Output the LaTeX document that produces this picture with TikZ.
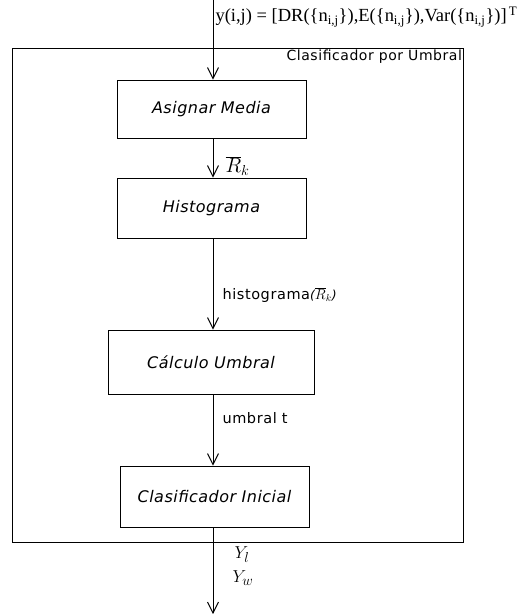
\documentclass[tikz,border=0pt]{standalone}
\usepackage{fontspec}
\setmainfont{Liberation Serif}
\newfontfamily\boxfont[LetterSpace=3]{DejaVu Sans}
\newfontfamily\labfont[LetterSpace=4]{DejaVu Sans}
\usetikzlibrary{arrows.meta}
\begin{document}
\begin{tikzpicture}[x=1pt,y=-1pt,
  line width=1pt,
  flow/.style={-{Straight Barb[length=11pt,width=11pt,line width=0.9pt]}},
  stage/.style={draw,rectangle,inner sep=0pt,font=\boxfont\itshape\fontsize{16}{18}\selectfont},
  lbl/.style={anchor=west,inner sep=0pt}]
  \useasboundingbox (0,0) rectangle (529,614);
  % outer frame of the threshold classifier
  \node[draw,rectangle,minimum width=451pt,minimum height=494pt,anchor=north west,inner sep=0pt]
    (frame) at (12,48) {};
  \node[anchor=north east,inner sep=1.5pt,font=\labfont\fontsize{14}{15}\selectfont]
    (ftitle) at (frame.north east) {Clasificador por Umbral};
  % processing stages
  \node[stage,minimum width=189pt,minimum height=58pt] (media) at (211.5,109) {Asignar Media};
  \node[stage,minimum width=189pt,minimum height=60pt] (hist)  at (211.5,208) {Histograma};
  \node[stage,minimum width=206pt,minimum height=64pt] (umbral) at (211,362) {Cálculo Umbral};
  \node[stage,minimum width=189pt,minimum height=61pt] (clasif) at (214.5,496.5) {Clasificador Inicial};
  % input and output ends
  \coordinate (in) at (213,0);
  \coordinate (out) at (213,614);
  \node[lbl,font=\fontsize{18.5}{20}\selectfont] (vec) at (215,17)
    {y(i,j) = [DR(\{n\textsubscript{i,j}\}),E(\{n\textsubscript{i,j}\}),Var(\{n\textsubscript{i,j}\})]\textsuperscript{\,T}};
  % connectors
  \draw[flow] (in) -- (in |- media.north);
  \draw[flow] (in |- media.south) -- (in |- hist.north);
  \draw[flow] (in |- hist.south) -- (in |- umbral.north);
  \draw[flow] (in |- umbral.south) -- (in |- clasif.north);
  \draw[flow] (in |- clasif.south) -- (out);
  % connector labels
  \node[lbl,font=\fontsize{20}{22}\selectfont] (rk) at (225,166) {$\overline{R}_k$};
  \node[lbl,font=\labfont\fontsize{14.5}{16}\selectfont] (hlab) at (222,295)
    {histograma{\itshape\fontsize{12.5}{13}\selectfont(}$\overline{R}_k${\itshape\fontsize{12.5}{13}\selectfont)}};
  \node[lbl,font=\labfont\fontsize{14.5}{16}\selectfont] (tlab) at (222,418) {umbral t};
  \node[lbl,font=\fontsize{19}{20}\selectfont] (yl) at (234,555) {$Y_l$};
  \node[lbl,font=\fontsize{19}{20}\selectfont] (yw) at (232,578) {$Y_w$};
\end{tikzpicture}
\end{document}
